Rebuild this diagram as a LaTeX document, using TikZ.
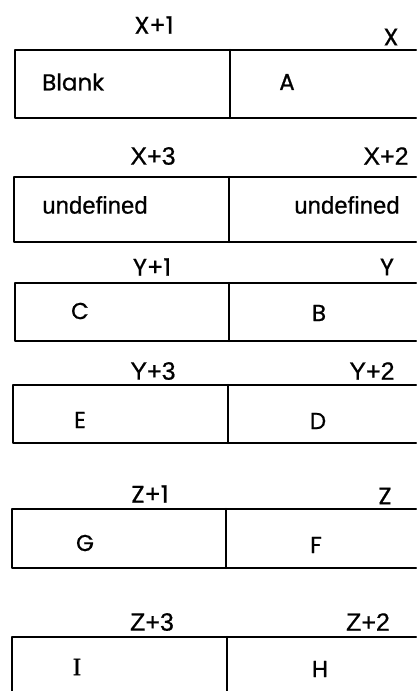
\documentclass[tikz,border=0pt]{standalone}
\usepackage{fontspec}
\setmainfont{Poppins}[FakeBold=0.8]
\newfontfamily\arialish{Liberation Sans}[FakeBold=0.6]
\newfontfamily\timesish{Liberation Serif}[FakeBold=0.8]
\begin{document}
\begin{tikzpicture}[x=1pt,y=-1pt,
  cellline/.style={line width=2.4pt,line cap=round,line join=round},
  lbl/.style={font=\fontsize{24}{24}\selectfont,inner sep=0pt,anchor=center},
  lbla/.style={font=\arialish\fontsize{25}{25}\selectfont,inner sep=0pt,anchor=center},
  txt/.style={font=\fontsize{23}{23}\selectfont,inner sep=0pt,anchor=center}]
\useasboundingbox (0,0) rectangle (416,691);
% row 1
\draw[cellline] (416,50) -- (15,50) -- (15,118) -- (416,118);
\draw[cellline] (230,50) -- (230,118);
\node[lbl] (x1) at (154,25) {X+1};
\node[lbl] (x0) at (391,37) {X};
\node[txt,anchor=west] (blank) at (42,82) {Blank};
\node[txt] (a) at (287,82) {A};
% row 2
\draw[cellline] (416,177) -- (14,177) -- (14,242) -- (416,242);
\draw[cellline] (229,177) -- (229,242);
\node[lbla] (x3) at (153,156) {X+3};
\node[lbla] (x2) at (386,156) {X+2};
\node[lbla,font=\arialish\fontsize{24}{24}\selectfont] (u1) at (95,205) {undefined};
\node[lbla,font=\arialish\fontsize{24}{24}\selectfont] (u2) at (347,205) {undefined};
% row 3
\draw[cellline] (416,283) -- (15,283) -- (15,341) -- (416,341);
\draw[cellline] (229,283) -- (229,341);
\node[lbl] (y1) at (152,267) {Y+1};
\node[lbl] (y0) at (387,267) {Y};
\node[txt] (c) at (80,311) {C};
\node[txt] (b) at (319,313) {B};
% row 4
\draw[cellline] (416,385) -- (13,385) -- (13,443) -- (416,443);
\draw[cellline] (228,385) -- (228,443);
\node[lbla] (y3) at (153,371) {Y+3};
\node[lbla] (y2) at (372,371) {Y+2};
\node[txt] (e) at (80,420) {E};
\node[txt] (d) at (318,421) {D};
% row 5
\draw[cellline] (416,509) -- (12,509) -- (12,568) -- (416,568);
\draw[cellline] (226,509) -- (226,568);
\node[lbl] (z1) at (150,494) {Z+1};
\node[lbl] (z0) at (385,496) {Z};
\node[txt] (g) at (85,543) {G};
\node[txt] (f) at (316,545) {F};
% row 6
\draw[cellline] (416,637) -- (12,637) -- (12,691);
\draw[cellline] (227,637) -- (227,691);
\node[lbla] (z3) at (152,622) {Z+3};
\node[lbla] (z2) at (368,622) {Z+2};
\node[txt,font=\timesish\fontsize{25}{25}\selectfont] (i) at (77,667) {I};
\node[txt] (h) at (320,669) {H};
\end{tikzpicture}
\end{document}
